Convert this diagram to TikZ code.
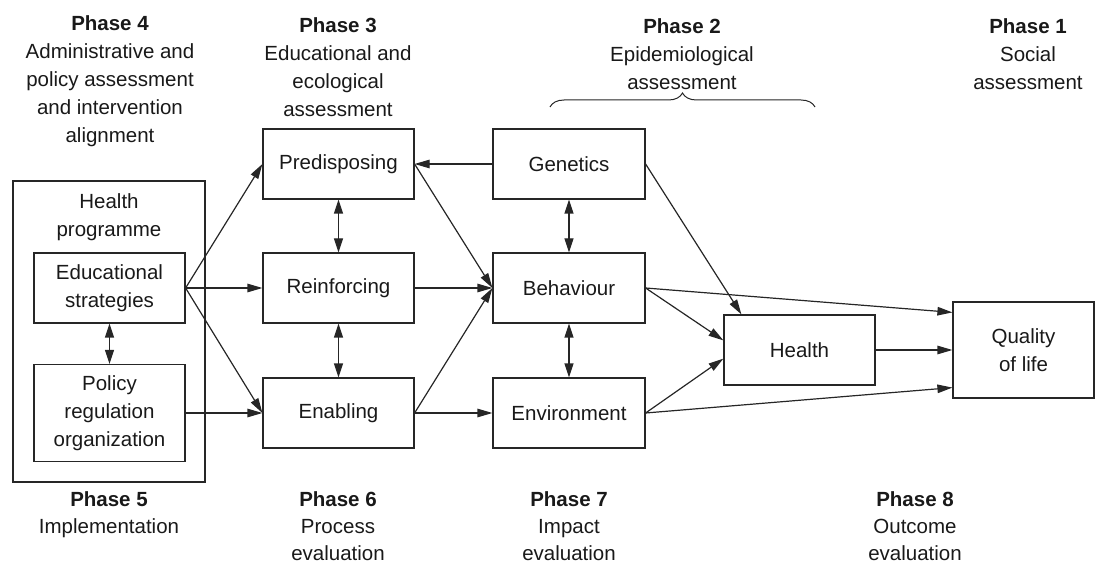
\documentclass[tikz,border=0pt]{standalone}
\usepackage{fontspec}
\setmainfont{Liberation Sans}
\usetikzlibrary{arrows.meta,decorations.pathreplacing}
\begin{document}
\begin{tikzpicture}[x=1pt,y=-1pt, line width=1.2pt, draw=black!85, text=black!90,
  every node/.style={font=\fontsize{20.5}{28}\selectfont},
  box/.style={draw, rectangle, inner sep=0pt, align=center},
  arr/.style={-{Triangle[length=15pt,width=8.5pt]}},
  darr/.style={{Triangle[length=14pt,width=9pt]}-{Triangle[length=14pt,width=9pt]}},
  lbl/.style={align=center, inner sep=0pt},
  blbl/.style={align=center, inner sep=0pt, font=\fontsize{20.5}{27}\selectfont}]
\useasboundingbox (0,0) rectangle (1096,564);
% programme box
\node[box, minimum width=192pt, minimum height=301pt] (prog) at (109,331.5) {};
\node[lbl] (progt) at (109,217.5) {Health\\programme};
\node[box, minimum width=151pt, minimum height=70pt] (edu) at (109.5,288) {Educational\\strategies};
\node[box, minimum width=151pt, minimum height=97pt] (pol) at (109.5,413) {Policy\\regulation\\organization};
% column 2
\node[box, minimum width=151pt, minimum height=70pt] (pre) at (338.5,164) {Predisposing};
\node[box, minimum width=151pt, minimum height=70pt] (rei) at (338.5,288) {Reinforcing};
\node[box, minimum width=151pt, minimum height=70pt] (ena) at (338.5,413) {Enabling};
% column 3
\node[box, minimum width=152pt, minimum height=70pt] (gen) at (569,164) {Genetics};
\node[box, minimum width=152pt, minimum height=70pt] (beh) at (569,288) {Behaviour};
\node[box, minimum width=152pt, minimum height=70pt] (env) at (569,413) {Environment};
% right
\node[box, minimum width=151pt, minimum height=70pt] (hea) at (799.5,350) {Health};
\node[box, minimum width=141pt, minimum height=96pt] (qol) at (1023.5,350) {Quality\\of life};
% phase labels
\node[lbl] (p4) at (110,81.5) {\textbf{Phase 4}\\Administrative and\\policy assessment\\and intervention\\alignment};
\node[lbl] (p3) at (338,67) {\textbf{Phase 3}\\Educational and\\ecological\\assessment};
\node[lbl] (p2) at (682,54) {\textbf{Phase 2}\\Epidemiological\\assessment};
\node[lbl] (p1) at (1028,54) {\textbf{Phase 1}\\Social\\assessment};
\node[blbl] (p5) at (109,515) {\textbf{Phase 5}\\Implementation};
\node[blbl] (p6) at (338,526) {\textbf{Phase 6}\\Process\\evaluation};
\node[blbl] (p7) at (569,526) {\textbf{Phase 7}\\Impact\\evaluation};
\node[blbl] (p8) at (915,526) {\textbf{Phase 8}\\Outcome\\evaluation};
% brace
\coordinate (bl) at (550,107);
\coordinate (br) at (815,107);
\draw[line width=1pt, decorate, decoration={brace, amplitude=14pt}] (bl) -- (br);
% arrows
\draw[arr] (edu.east) -- (pre.west);
\draw[arr] (edu.east) -- (rei.west);
\draw[arr] (edu.east) -- (ena.west);
\draw[arr] (pol.east) -- (ena.west);
\draw[darr] (edu.south) -- (pol.north);
\draw[arr] (gen.west) -- (pre.east);
\draw[arr] (pre.east) -- (beh.west);
\draw[arr] (rei.east) -- (beh.west);
\draw[arr] (ena.east) -- (beh.west);
\draw[arr] (ena.east) -- (env.west);
\draw[darr] (pre.south) -- (rei.north);
\draw[darr] (rei.south) -- (ena.north);
\draw[darr] (gen.south) -- (beh.north);
\draw[darr] (beh.south) -- (env.north);
\draw[arr] (gen.east) -- ([xshift=18pt]hea.north west);
\draw[arr] (beh.east) -- ([yshift=-26pt]hea.north west);
\draw[arr] (env.east) -- ([yshift=27pt]hea.south west);
\draw[arr] (beh.east) -- ([yshift=-11pt]qol.north west);
\draw[arr] (env.east) -- ([yshift=11pt]qol.south west);
\draw[arr] (hea.east) -- (qol.west);
\end{tikzpicture}
\end{document}
